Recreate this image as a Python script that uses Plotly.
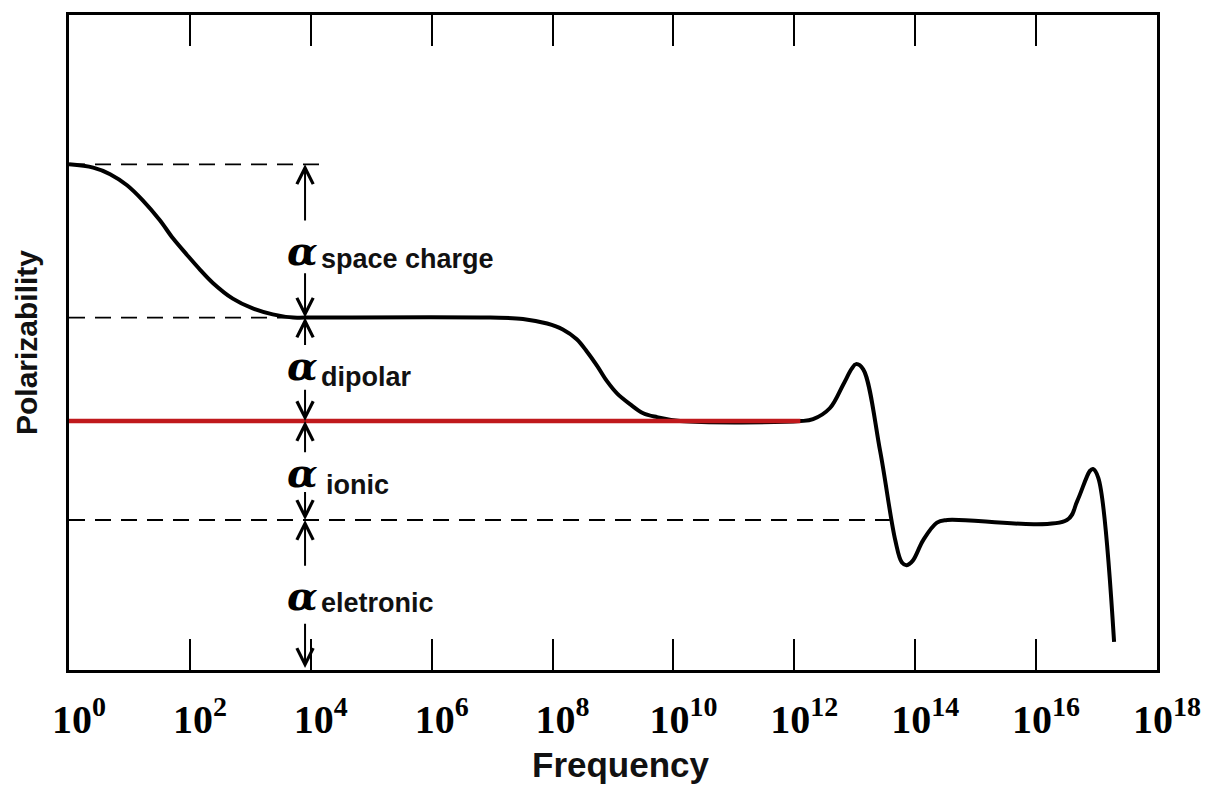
import plotly.graph_objects as go

# Frequency decades shown on the axis
tick_exps = [0, 2, 4, 6, 8, 10, 12, 14, 16, 18]

# Polarizability levels (arbitrary units)
level_space_charge = 7.72
level_dipolar = 5.38
level_ionic = 3.80
level_electronic = 2.29

# Total polarizability curve: log10(frequency) and value
curve_log_f = [0.00, 0.40, 0.68, 0.96, 1.22, 1.50, 1.72, 1.95, 2.17, 2.38,
               2.71, 3.04, 3.37, 3.71, 3.905,
               6.97, 7.51, 7.91, 8.17, 8.40, 8.57, 8.74, 8.90, 9.07, 9.28,
               9.50, 9.73, 10.11,
               12.095, 12.31, 12.59, 12.81, 12.95, 13.02, 13.14, 13.42, 13.67,
               13.78, 13.86, 13.96, 14.13, 14.36, 14.53, 16.51, 16.68, 16.89,
               16.94, 17.03, 17.29]
curve_value = [7.72, 7.67, 7.57, 7.40, 7.17, 6.87, 6.59, 6.34, 6.11, 5.91,
               5.67, 5.52, 5.43, 5.38, 5.38,
               5.38, 5.36, 5.29, 5.20, 5.05, 4.86, 4.64, 4.41, 4.22, 4.06,
               3.92, 3.86, 3.80,
               3.80, 3.83, 4.00, 4.36, 4.60, 4.67, 4.59, 3.34, 1.98,
               1.64, 1.60, 1.67, 1.98, 2.25, 2.29, 2.29, 2.58, 3.04,
               3.07, 2.93, 0.43]

# Highlighted ionic level (red line)
red_log_f = [0.0, 12.1]

# Dashed reference levels and their extents (log10 frequency)
dash_levels = [level_space_charge, level_dipolar, level_electronic]
dash_end_log_f = [4.24, 3.90, 13.58]

# Vertical dimension arrows: (tip, tail) pairs in polarizability units
arrow_log_f = 3.905
arrow_pairs = [
    (level_space_charge, 6.84), (level_dipolar, 6.08),
    (level_dipolar, 4.94), (level_ionic, 4.30),
    (level_ionic, 3.30), (level_electronic, 2.74),
    (level_electronic, 1.57), (0.03, 0.73),
]

# Contribution labels: subscript text, alpha y, subscript y, subscript x (log10 f)
labels = ["space charge", "dipolar", "ionic", "eletronic"]
alpha_y = [6.40, 4.65, 3.01, 1.14]
label_y = [6.28, 4.48, 2.83, 1.02]
label_x = [4.13, 4.13, 4.22, 4.13]

fig = go.Figure()

for lvl, end in zip(dash_levels, dash_end_log_f):
    fig.add_trace(go.Scatter(
        x=[10 ** 0, 10 ** end], y=[lvl, lvl], mode="lines",
        line=dict(color="black", width=1.8, dash="16px,10px"),
        hoverinfo="skip", showlegend=False))

fig.add_trace(go.Scatter(
    x=[10 ** v for v in curve_log_f], y=curve_value, mode="lines",
    line=dict(color="black", width=4, shape="spline", smoothing=1.0),
    hoverinfo="skip", showlegend=False))

fig.add_trace(go.Scatter(
    x=[10 ** v for v in red_log_f], y=[level_ionic, level_ionic], mode="lines",
    line=dict(color="#c0191c", width=4.5),
    hoverinfo="skip", showlegend=False))

for tip, tail in arrow_pairs:
    fig.add_annotation(
        x=arrow_log_f, y=tip, ax=arrow_log_f, ay=tail,
        xref="x", yref="y", axref="x", ayref="y", text="",
        showarrow=True, arrowhead=5, arrowsize=1.6, arrowwidth=2,
        arrowcolor="black", standoff=0, startstandoff=0)

for txt, ay_, ly, lx in zip(labels, alpha_y, label_y, label_x):
    fig.add_annotation(
        x=arrow_log_f - 0.04, y=ay_, xref="x", yref="y", text="α",
        showarrow=False, xanchor="center", yanchor="middle",
        font=dict(family="DejaVu Serif", size=40, color="black",
                  weight="bold", style="italic"))
    fig.add_annotation(
        x=lx, y=ly, xref="x", yref="y", text=txt,
        showarrow=False, xanchor="left", yanchor="middle",
        font=dict(family="Liberation Sans", size=27, color="#111111",
                  weight="bold"))

# x-axis title
fig.add_annotation(
    x=0.507, y=-0.145, xref="paper", yref="paper", text="Frequency",
    showarrow=False, xanchor="center", yanchor="middle",
    font=dict(family="Liberation Sans", size=35, color="#111111",
              weight="bold"))

fig.update_xaxes(
    type="log", range=[0, 18],
    tickvals=[10 ** e for e in tick_exps],
    ticktext=[f"10<sup>{e}</sup>" for e in tick_exps],
    ticks="inside", ticklen=31, tickwidth=2, tickcolor="black",
    showline=True, linewidth=3, linecolor="black", mirror="ticks",
    showgrid=False, zeroline=False,
    tickfont=dict(family="Liberation Serif", size=40, color="black",
                  weight="bold"),
    ticklabelstandoff=12, ticklabelshift=10)

fig.update_yaxes(
    range=[0, 10], showticklabels=False, ticks="",
    showline=True, linewidth=3, linecolor="black", mirror=True,
    showgrid=False, zeroline=False,
    title=dict(text="Polarizability", standoff=20,
               font=dict(family="Liberation Sans", size=30, color="#111111",
                         weight="bold")))

fig.update_layout(
    width=1232, height=787,
    margin=dict(l=69, r=75, t=12, b=117),
    paper_bgcolor="white", plot_bgcolor="white",
    showlegend=False)

fig.write_html("out.html")
